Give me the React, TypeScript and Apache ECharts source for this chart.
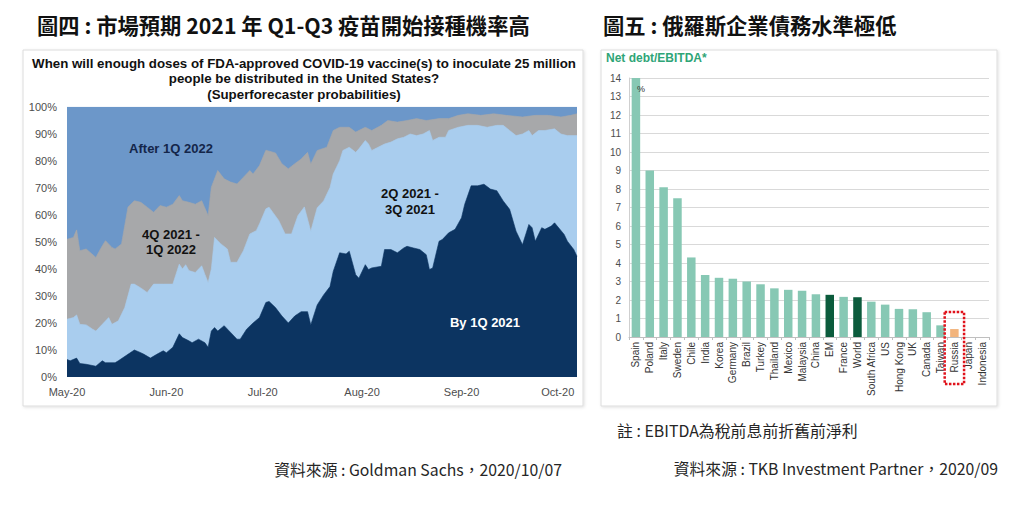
import { useEffect, useRef } from 'react';
import * as echarts from 'echarts';

// ---- left chart: superforecaster probabilities (cumulative % boundaries) ----
const MONTHS = ['Jan', 'Feb', 'Mar', 'Apr', 'May', 'Jun', 'Jul', 'Aug', 'Sep', 'Oct', 'Nov', 'Dec'];

const forecastDays: string[] = [];
for (let d = new Date(2020, 4, 1); d <= new Date(2020, 9, 7); d.setDate(d.getDate() + 1)) {
  forecastDays.push(`${d.getMonth() + 1}/${d.getDate()}`);
}

const yPercentTicks = [0, 10, 20, 30, 40, 50, 60, 70, 80, 90, 100];

// top edge of "After 1Q 2022" (everything up to 100%)
const afterQ1_2022Top: [string, number][] = [
  ['5/1', 100], ['10/7', 100],
];

// top edge of "4Q 2021 - 1Q 2022"
const q4_2021ToQ1_2022Top: [string, number][] = [
  ['5/1', 51], ['5/3', 51.7], ['5/4', 54.5], ['5/5', 46.8], ['5/7', 47.4], ['5/10', 44.3],
  ['5/12', 48.6], ['5/13', 50.5], ['5/15', 48], ['5/16', 47.4], ['5/18', 49.3], ['5/20', 62.9],
  ['5/22', 65.3], ['5/24', 64.7], ['5/26', 62.9], ['5/28', 61], ['5/30', 63.5], ['6/1', 62.9],
  ['6/3', 64], ['6/5', 67.2], ['6/6', 65.3], ['6/8', 64.7], ['6/10', 64], ['6/12', 65.3],
  ['6/14', 59.8], ['6/15', 70.3], ['6/17', 76.5], ['6/19', 73.4], ['6/21', 72.2], ['6/23', 71.5],
  ['6/25', 74], ['6/27', 76.5], ['6/28', 75.2], ['6/30', 78.3], ['7/2', 84], ['7/5', 83],
  ['7/7', 79], ['7/9', 77.1], ['7/11', 79], ['7/13', 80.7], ['7/15', 83.2], ['7/16', 78.9],
  ['7/18', 83.9], ['7/21', 85.1], ['7/23', 91.3], ['7/25', 92.5], ['7/28', 92.5], ['7/30', 90.7],
  ['8/2', 92.5], ['8/4', 91.3], ['8/7', 93.2], ['8/9', 95], ['8/12', 94.4], ['8/15', 95],
  ['8/18', 95.7], ['8/21', 95], ['8/25', 95.7], ['8/28', 95.7], ['8/31', 96.9], ['9/3', 97.5],
  ['9/7', 96.9], ['9/11', 97.5], ['9/15', 96.9], ['9/20', 96.3], ['9/24', 96.9], ['9/28', 96.9],
  ['10/2', 96.3], ['10/5', 96.9], ['10/7', 97.5],
];

// top edge of "2Q 2021 - 3Q 2021"
const q2ToQ3_2021Top: [string, number][] = [
  ['5/1', 21.4], ['5/3', 22], ['5/4', 23], ['5/5', 19.5], ['5/7', 19.3], ['5/9', 17.7],
  ['5/10', 17], ['5/12', 19.5], ['5/14', 22], ['5/15', 19.5], ['5/17', 20.8], ['5/19', 25.7],
  ['5/21', 34.4], ['5/22', 34.4], ['5/24', 33], ['5/26', 31.3], ['5/28', 34.4], ['5/31', 34.4],
  ['6/3', 34.4], ['6/5', 41.8], ['6/6', 40], ['6/7', 41.6], ['6/8', 39.4], ['6/10', 38.7],
  ['6/12', 41.2], ['6/13', 38], ['6/14', 35], ['6/15', 40], ['6/16', 51.7], ['6/18', 49.3],
  ['6/20', 47.4], ['6/21', 42.5], ['6/23', 42.5], ['6/25', 46.8], ['6/27', 53], ['6/29', 54.2],
  ['6/30', 56.7], ['7/2', 62.3], ['7/3', 62.9], ['7/6', 58], ['7/8', 53], ['7/10', 53],
  ['7/12', 59.8], ['7/14', 63], ['7/16', 54], ['7/18', 62.7], ['7/20', 65.2], ['7/22', 70.2],
  ['7/23', 75.2], ['7/25', 80.1], ['7/26', 83.9], ['7/28', 85.1], ['7/30', 83.2], ['7/31', 84.5],
  ['8/2', 87.6], ['8/3', 86.3], ['8/4', 83.9], ['8/6', 85.1], ['8/8', 86.3], ['8/10', 87],
  ['8/12', 88.2], ['8/14', 88.8], ['8/16', 90], ['8/18', 89.4], ['8/20', 90], ['8/22', 91.3],
  ['8/23', 87.6], ['8/25', 88.8], ['8/27', 88.8], ['8/28', 91.3], ['8/31', 92.5], ['9/3', 93.2],
  ['9/6', 93.2], ['9/9', 92.5], ['9/12', 93.2], ['9/14', 93.2], ['9/16', 91.3], ['9/18', 89.4],
  ['9/20', 90], ['9/22', 91.3], ['9/23', 89.4], ['9/25', 91.3], ['9/27', 91.3], ['9/30', 91.9],
  ['10/2', 90], ['10/4', 89.4], ['10/7', 89.4],
];

// top edge of "By 1Q 2021"
const byQ1_2021Top: [string, number][] = [
  ['5/1', 6.5], ['5/2', 6], ['5/4', 7], ['5/5', 5], ['5/7', 4.7], ['5/10', 4],
  ['5/12', 6], ['5/13', 5.3], ['5/16', 5.3], ['5/17', 6], ['5/20', 8.4], ['5/22', 10],
  ['5/24', 9], ['5/25', 8.4], ['5/27', 7], ['5/29', 8.4], ['5/31', 9.7], ['6/1', 9],
  ['6/3', 11], ['6/5', 16], ['6/6', 14.6], ['6/8', 13.4], ['6/9', 12.7], ['6/11', 14],
  ['6/13', 12.7], ['6/14', 11], ['6/15', 17], ['6/16', 18.3], ['6/17', 17], ['6/19', 19],
  ['6/21', 16.5], ['6/23', 14], ['6/24', 14], ['6/26', 17.7], ['6/28', 20], ['6/30', 22],
  ['7/2', 27.6], ['7/3', 28], ['7/5', 25.7], ['7/7', 22.6], ['7/9', 20], ['7/11', 22.6],
  ['7/13', 24.2], ['7/15', 24.2], ['7/16', 19.3], ['7/18', 26.7], ['7/20', 30.4], ['7/22', 33.5],
  ['7/23', 39.1], ['7/25', 46], ['7/27', 45.6], ['7/28', 46.6], ['7/30', 37.9], ['7/31', 36.6],
  ['8/2', 41.6], ['8/3', 39.8], ['8/4', 40.4], ['8/7', 41], ['8/8', 47.2], ['8/10', 47.2],
  ['8/12', 46], ['8/14', 47.8], ['8/15', 48.4], ['8/17', 47.8], ['8/19', 47.2], ['8/21', 45.3],
  ['8/22', 39.8], ['8/23', 40.4], ['8/25', 50.3], ['8/26', 50.9], ['8/28', 53.4], ['8/30', 54.7],
  ['9/1', 59], ['9/2', 64], ['9/4', 70.8], ['9/6', 70.8], ['9/8', 71.4], ['9/10', 69.6],
  ['9/12', 69], ['9/14', 65.2], ['9/16', 62.1], ['9/18', 54], ['9/20', 49], ['9/22', 56.5],
  ['9/23', 55.3], ['9/24', 50.3], ['9/26', 55.3], ['9/27', 54.7], ['9/29', 55.9], ['9/30', 57.1],
  ['10/3', 52.8], ['10/4', 50.3], ['10/6', 47.2], ['10/7', 44.7],
];

// ---- right chart: net debt / EBITDA ----
const countries = [
  'Spain', 'Poland', 'Italy', 'Sweden', 'Chile', 'India', 'Korea', 'Germany', 'Brazil',
  'Turkey', 'Thailand', 'Mexico', 'Malaysia', 'China', 'EM', 'France', 'World',
  'South Africa', 'US', 'Hong Kong', 'UK', 'Canada', 'Taiwan', 'Russia', 'Japan', 'Indonesia',
];
const netDebtToEbitda = [
  14, 9.0, 8.1, 7.5, 4.3, 3.35, 3.2, 3.15, 3.0,
  2.85, 2.63, 2.55, 2.5, 2.31, 2.28, 2.17, 2.15,
  1.91, 1.75, 1.52, 1.5, 1.34, 0.63, 0.43, 0, 0,
];

const BAR_COLOR = '#87c8b4';
const BAR_COLORS: Record<string, string> = { EM: '#0b5b3c', World: '#0b5b3c', Russia: '#f2b47c' };

const LATIN = '"Liberation Sans", Arial, sans-serif';
const CJK = '"Noto Sans CJK TC", "Noto Sans", sans-serif';

function areaSeries(name: string, data: [string, number][], color: string) {
  return {
    type: 'line' as const,
    name,
    xAxisIndex: 0,
    yAxisIndex: 0,
    data,
    symbol: 'none',
    silent: true,
    lineStyle: { width: 0.6, color },
    areaStyle: { color, opacity: 1 },
  };
}

function text(id: string, x: number, y: number, str: string, style: Record<string, unknown>) {
  return {
    id,
    type: 'text',
    x,
    y,
    z: 100,
    style: { text: str, textVerticalAlign: 'middle', fill: '#1a1a1a', ...style },
  };
}

export default function App() {
  const chartRef = useRef<HTMLDivElement>(null);

  useEffect(() => {
    if (!chartRef.current) return;
    const chart = echarts.init(chartRef.current, null, { renderer: 'svg' });

    const boxStyle = {
      fill: '#fff',
      stroke: '#dcdcdc',
      lineWidth: 1,
      shadowBlur: 3,
      shadowColor: 'rgba(0,0,0,0.12)',
      shadowOffsetX: 1,
      shadowOffsetY: 1,
    };

    chart.setOption({
      animation: false,
      grid: [
        { left: 67, top: 107, width: 510, height: 270, outerBoundsMode: 'none' },
        { left: 629, top: 78, width: 360, height: 259, outerBoundsMode: 'none' },
      ],
      xAxis: [
        {
          gridIndex: 0,
          type: 'category',
          data: forecastDays,
          boundaryGap: false,
          axisLine: { show: false },
          axisTick: { show: false },
          axisLabel: {
            interval: (_i: number, value: string) => value.endsWith('/1'),
            formatter: (value: string) => `${MONTHS[Number(value.split('/')[0]) - 1]}-20`,
            color: '#4d4d4d',
            fontSize: 11,
            fontFamily: LATIN,
            margin: 9,
          },
        },
        {
          gridIndex: 1,
          type: 'category',
          data: countries,
          axisLine: { lineStyle: { color: '#bfbfbf' } },
          axisTick: { show: true, length: 3, lineStyle: { color: '#bfbfbf' } },
          axisLabel: {
            interval: 0,
            rotate: 90,
            color: '#333',
            fontSize: 10,
            fontFamily: LATIN,
            margin: 5,
          },
        },
      ],
      yAxis: [
        {
          gridIndex: 0,
          type: 'value',
          min: yPercentTicks[0],
          max: yPercentTicks[yPercentTicks.length - 1],
          interval: 10,
          splitLine: { show: false },
          axisLine: { show: false },
          axisLabel: { formatter: '{value}%', color: '#4d4d4d', fontSize: 11, fontFamily: LATIN, margin: 10 },
        },
        {
          gridIndex: 1,
          type: 'value',
          min: 0,
          max: 14,
          interval: 1,
          splitLine: { lineStyle: { color: '#d9d9d9' } },
          axisLine: { show: true, lineStyle: { color: '#cfcfcf' } },
          axisLabel: { color: '#4d4d4d', fontSize: 10, fontFamily: LATIN, margin: 8 },
        },
      ],
      series: [
        areaSeries('After 1Q 2022', afterQ1_2022Top, '#6c97c9'),
        areaSeries('4Q 2021 - 1Q 2022', q4_2021ToQ1_2022Top, '#a7a8aa'),
        areaSeries('2Q 2021 - 3Q 2021', q2ToQ3_2021Top, '#a9cdee'),
        areaSeries('By 1Q 2021', byQ1_2021Top, '#0c3461'),
        {
          type: 'bar',
          xAxisIndex: 1,
          yAxisIndex: 1,
          barWidth: 8.5,
          data: netDebtToEbitda.map((v, i) => ({
            value: v,
            itemStyle: { color: BAR_COLORS[countries[i]] ?? BAR_COLOR },
          })),
        },
      ],
      graphic: [
        { id: 'boxL', type: 'rect', z: 0, shape: { x: 23, y: 50, width: 560, height: 356 }, style: boxStyle },
        { id: 'boxR', type: 'rect', z: 0, shape: { x: 601, y: 50, width: 396, height: 356 }, style: boxStyle },
        text('titleL', 37, 24, '圖四 : 市場預期 2021 年 Q1-Q3 疫苗開始接種機率高', {
          fontSize: 21.3, fontWeight: 'bold', fontFamily: CJK, fill: '#111',
        }),
        text('titleR', 603, 24, '圖五 : 俄羅斯企業債務水準極低', {
          fontSize: 21.3, fontWeight: 'bold', fontFamily: CJK, fill: '#111',
        }),
        text('chartTitleL', 304, 78.5,
          'When will enough doses of FDA-approved COVID-19 vaccine(s) to inoculate 25 million\npeople be distributed in the United States?\n(Superforecaster probabilities)', {
          fontSize: 13.3, fontWeight: 'bold', fontFamily: LATIN, textAlign: 'center', lineHeight: 15.5, fill: '#111',
        }),
        text('lblAfter', 171, 148, 'After 1Q 2022', {
          fontSize: 13, fontWeight: 'bold', fontFamily: LATIN, textAlign: 'center', fill: '#14264a',
        }),
        text('lblQ4', 171, 242, '4Q 2021 -\n1Q 2022', {
          fontSize: 13, fontWeight: 'bold', fontFamily: LATIN, textAlign: 'center', lineHeight: 15, fill: '#111',
        }),
        text('lblQ2', 410, 201, '2Q 2021 -\n3Q 2021', {
          fontSize: 13, fontWeight: 'bold', fontFamily: LATIN, textAlign: 'center', lineHeight: 16, fill: '#111',
        }),
        text('lblBy', 485, 322, 'By 1Q 2021', {
          fontSize: 13, fontWeight: 'bold', fontFamily: LATIN, textAlign: 'center', fill: '#fff',
        }),
        text('unitR', 606, 58, 'Net debt/EBITDA*', {
          fontSize: 12, fontWeight: 'bold', fontFamily: LATIN, fill: '#2fa577',
        }),
        text('pctR', 637, 89, '%', { fontSize: 9, fontFamily: LATIN, fill: '#333' }),
        text('noteR', 617, 430, '註 : EBITDA為稅前息前折舊前淨利', { fontSize: 15.9, fontFamily: CJK, fill: '#262626' }),
        text('srcR', 998, 468, '資料來源 : TKB Investment Partner，2020/09', {
          fontSize: 15.8, fontFamily: CJK, fill: '#262626', textAlign: 'right',
        }),
        text('srcL', 562, 469, '資料來源 : Goldman Sachs，2020/10/07', {
          fontSize: 15.8, fontFamily: CJK, fill: '#262626', textAlign: 'right',
        }),
      ],
    });

    // dotted highlight around Russia, placed from the bar axis
    const rx = chart.convertToPixel({ xAxisIndex: 1 }, 'Russia') as number;
    const jx = chart.convertToPixel({ xAxisIndex: 1 }, 'Japan') as number;
    const band = jx - rx;
    const top = chart.convertToPixel({ yAxisIndex: 1 }, 1.35) as number;
    const base = chart.convertToPixel({ yAxisIndex: 1 }, 0) as number;
    chart.setOption({
      graphic: [
        {
          id: 'russiaBox',
          type: 'rect',
          z: 100,
          shape: { x: rx - band * 0.7, y: top, width: band * 1.4, height: base - top + 47 },
          style: { fill: 'none', stroke: '#e0121b', lineWidth: 2.5, lineDash: [2.5, 1.5] },
        },
      ],
    });

    return () => chart.dispose();
  }, []);

  return (
    <div
      ref={chartRef}
      style={{ position: 'absolute', left: 0, top: 0, width: 1024, height: 506, background: '#fff' }}
    />
  );
}
